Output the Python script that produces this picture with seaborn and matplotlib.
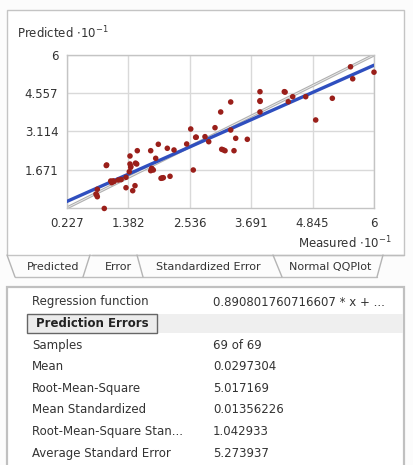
import matplotlib
matplotlib.use("Agg")
import matplotlib.pyplot as plt
from matplotlib.patches import Rectangle
from matplotlib.lines import Line2D
import seaborn as sns
import pandas as pd

# Measured vs. predicted values (units of 10^-1)
measured = [0.777, 0.802, 0.802, 0.933, 0.978, 1.054, 1.072, 1.116, 1.196, 1.341,
            1.341, 1.416, 1.416, 1.429, 1.542, 1.553, 1.467, 1.510, 1.805, 1.948,
            1.899, 1.824, 1.805, 1.854, 1.999, 2.042, 2.168, 2.117, 2.243, 2.481,
            2.557, 2.605, 2.650, 2.825, 2.895, 3.013, 3.120, 3.308, 3.308, 3.139,
            3.201, 3.370, 3.402, 3.620, 3.858, 3.858, 3.858, 4.315, 4.390, 4.473,
            4.717, 4.905, 5.217, 5.559, 5.600, 6.000,
            0.790, 1.430, 1.520, 1.830, 2.020, 3.170, 3.860, 1.100, 0.970, 2.660,
            1.403, 1.250, 4.330]
predicted = [0.755, 0.653, 0.933, 0.210, 1.850, 1.246, 1.182, 1.227, 1.284, 1.385,
             0.993, 2.189, 1.887, 1.763, 1.887, 2.389, 0.880, 1.069, 2.389, 2.631,
             2.102, 1.725, 1.635, 1.661, 1.348, 1.370, 1.423, 2.480, 2.416, 2.642,
             3.208, 1.661, 2.895, 2.918, 2.729, 3.257, 3.850, 4.227, 3.170, 2.442,
             2.389, 2.389, 2.857, 2.819, 4.616, 4.276, 3.850, 4.616, 4.238, 4.427,
             4.427, 3.548, 4.367, 5.555, 5.102, 5.352,
             0.720, 1.800, 1.920, 1.690, 1.360, 2.420, 4.250, 1.250, 1.830, 2.900,
             1.597, 1.300, 4.600]

fit_slope = 0.890801760716607
fit_intercept = 0.27

x_ticks = [0.227, 1.382, 2.536, 3.691, 4.845, 6]
x_tick_labels = ["0.227", "1.382", "2.536", "3.691", "4.845", "6"]
y_ticks = [1.671, 3.114, 4.557, 6]
y_tick_labels = ["1.671", "3.114", "4.557", "6"]

tab_names = ["Predicted", "Error", "Standardized Error", "Normal QQPlot"]
tab_centers = [53, 118, 208, 330]

row_labels = ["Samples", "Mean", "Root-Mean-Square", "Mean Standardized",
              "Root-Mean-Square Stan...", "Average Standard Error"]
row_values = ["69 of 69", "0.0297304", "5.017169", "0.01356226", "1.042933", "5.273937"]

W, H = 414, 465
sns.set_theme(style="white")
plt.rcParams["font.family"] = ["DejaVu Sans"]

fig = plt.figure(figsize=(W / 100, H / 100), dpi=100, facecolor="#fcfcfc")


def fx(px):
    return px / W


def fy(py):
    return 1 - py / H


def fline(xs, ys, color="#b4b4b4", lw=1.0):
    fig.add_artist(Line2D([fx(v) for v in xs], [fy(v) for v in ys],
                          transform=fig.transFigure, color=color, lw=lw))


def frect(x0, y0, x1, y1, fc, ec="none", lw=1.0, z=0):
    fig.add_artist(Rectangle((fx(x0), fy(y1)), fx(x1) - fx(x0), fy(y0) - fy(y1),
                             transform=fig.transFigure, facecolor=fc,
                             edgecolor=ec, lw=lw, zorder=z))


# upper panel
frect(7, 10, 404, 255, "white", "#c4c4c4", 1.0)
# lower panel
frect(7, 287, 404, 470, "white", "#c0c0c0", 1.6)

# tab strip
fline([92, 404], [255, 255], "#bdbdbd")
fline([15, 377], [277, 277], "#bdbdbd")
fline([7, 15], [255, 277])
fline([90, 83], [255, 277])
fline([137, 143], [255, 277])
fline([273, 282], [255, 277])
fline([383, 377], [255, 277])
for name, cx in zip(tab_names, tab_centers):
    fig.text(fx(cx), fy(267), name, ha="center", va="center", fontsize=8,
             color="#333333")

# chart
ax = fig.add_axes([fx(66.7), fy(208), fx(374) - fx(66.7), fy(55) - fy(208)])
ax.set_facecolor("white")
ax.set_xlim(0.227, 6)
ax.set_ylim(0.227, 6)
ax.set_xticks(x_ticks)
ax.set_xticklabels(x_tick_labels)
ax.set_yticks(y_ticks)
ax.set_yticklabels(y_tick_labels)
ax.tick_params(length=0, labelsize=8.5, labelcolor="#333333")
ax.tick_params(axis="x", pad=6.5)
ax.tick_params(axis="y", pad=6)
ax.grid(True, color="#d9d9d9", lw=1)
for s in ax.spines.values():
    s.set_color("#c4c4c4")
    s.set_linewidth(1)

ax.axline((0, 0), slope=1, color="#b0b0b0", lw=2.2, zorder=2)
ax.axline((0, 0), slope=1, color="#eeeeee", lw=0.6, zorder=2)
ax.axline((0, fit_intercept), slope=fit_slope, color="#2f4fbf", lw=2.4, zorder=3)

df = pd.DataFrame({"Measured": measured, "Predicted": predicted})
sns.scatterplot(data=df, x="Measured", y="Predicted", ax=ax, color="#9a1f1a",
                s=16, edgecolor="none", zorder=4, clip_on=False)
ax.set_xlabel("")
ax.set_ylabel("")

fig.text(fx(17), fy(33), r"Predicted $\cdot$10$^{-1}$", ha="left", va="center",
         fontsize=8.5, color="#333333")
fig.text(fx(392), fy(243), r"Measured $\cdot$10$^{-1}$", ha="right", va="center",
         fontsize=8.5, color="#333333")

# statistics table
fig.text(fx(32), fy(302), "Regression function", ha="left", va="center",
         fontsize=8.5, color="#333333")
fig.text(fx(213), fy(302), f"{fit_slope:.15f} * x + ...", ha="left", va="center",
         fontsize=8.5, color="#333333")
frect(157, 314, 403, 333, "#efefef")
frect(27, 314, 157, 333, "#ececec", "#666666", 1.0, z=2)
fig.text(fx(92), fy(323.5), "Prediction Errors", ha="center", va="center",
         fontsize=8.5, fontweight="bold", color="#222222", zorder=3)
for i, (lab, val) in enumerate(zip(row_labels, row_values)):
    yy = 345 + i * 21.6
    fig.text(fx(32), fy(yy), lab, ha="left", va="center", fontsize=8.5,
             color="#333333")
    fig.text(fx(213), fy(yy), val, ha="left", va="center", fontsize=8.5,
             color="#333333")

fig.savefig("out.png", dpi=100, facecolor=fig.get_facecolor())
